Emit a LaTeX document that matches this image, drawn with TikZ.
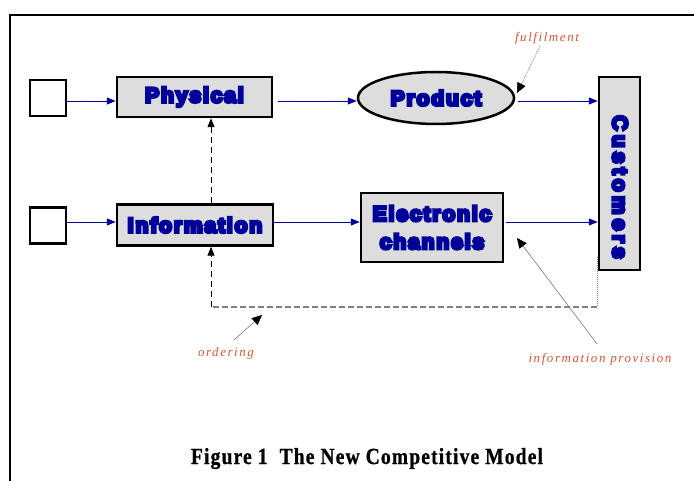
\documentclass[tikz,border=0pt]{standalone}
\usepackage{fontspec}
\usetikzlibrary{arrows.meta,shapes.geometric,calc}
\newfontfamily\heavyfont[FakeBold=14,LetterSpace=9]{Liberation Sans Bold}
\newfontfamily\heavywidefont[FakeBold=14,LetterSpace=20]{Liberation Sans Bold}
\newfontfamily\labelfont[LetterSpace=12]{Liberation Serif Italic}
\newfontfamily\capfont[LetterSpace=6,FakeBold=1]{Liberation Serif Bold}
\definecolor{boxblue}{RGB}{0,0,155}
\definecolor{arrowblue}{RGB}{0,0,160}
\definecolor{boxgray}{RGB}{221,221,221}
\definecolor{labelred}{RGB}{222,82,50}
\begin{document}
\begin{tikzpicture}[x=1pt,y=-1pt,
  mainbox/.style={draw=black,line width=2.5pt,fill=boxgray,inner sep=0pt,
    text=boxblue,font=\heavyfont\fontsize{21}{28}\selectfont},
  inbox/.style={draw=black,line width=2.2pt,fill=white,minimum width=36pt,minimum height=36pt,inner sep=0pt},
  flow/.style={draw=arrowblue,line width=0.9pt,-{Triangle[length=9pt,width=7pt]}},
  feedback/.style={draw=black,line width=0.8pt,dash pattern=on 6pt off 4pt},
  feedbackgray/.style={draw=gray,line width=1.1pt,dash pattern=on 6pt off 3pt},
  note/.style={text=labelred,font=\labelfont\fontsize{13}{15}\selectfont,inner sep=0pt},
  pointer/.style={draw=gray!80!black,line width=0.5pt,-{Triangle[length=10pt,width=9pt,color=black]}},
  tipblack/.style={-{Triangle[length=9pt,width=7pt]}}
]
\useasboundingbox (0,0) rectangle (694,481);
% frame
\draw[line width=2pt] (9.5,481) -- (9.5,15) -- (694,15);

% nodes
\node[inbox] (in1) at (48,98) {};
\node[inbox] (in2) at (48,225.5) {};
\node[mainbox,minimum width=155pt,minimum height=40pt] (phys) at (194.5,97) {\raisebox{-1pt}{Physical}};
\node[mainbox,ellipse,minimum width=156pt,minimum height=52pt] (prod) at (436,98) {Product};
\node[mainbox,minimum width=41pt,minimum height=193pt] (cust) at (619.5,173.5) {};
\node[text=boxblue,font=\heavywidefont\fontsize{21}{28}\selectfont,rotate=-90,inner sep=0pt] (custtext) at (620,187) {Customers};
\node[mainbox,minimum width=156pt,minimum height=41pt] (info) at (195,225) {Information};
\node[mainbox,minimum width=142pt,minimum height=69pt,align=center] (elec) at (432,227.5)
  {Electronic\\channels};

% flows
\draw[flow] (in1.east |- 0,101) -- (phys.west |- 0,101);
\draw[flow] (phys.east |- 0,101) ++(5,0) -- (prod.west |- 0,101);
\draw[flow] (prod.east |- 0,101) ++(3,0) -- (cust.west |- 0,101);
\draw[flow] (in2.east |- 0,222) -- (info.west |- 0,222);
\draw[flow] (info.east |- 0,222) -- (elec.west |- 0,222);
\draw[flow] (elec.east |- 0,222) ++(2,0) -- (cust.west |- 0,222);

% feedback (ordering loop)
\coordinate (xcol) at (211,0);
\coordinate (loopR) at (597,307);
\draw[draw=gray,line width=0.6pt,dash pattern=on 1pt off 1pt] (597,257) -- (loopR);
\draw[feedbackgray] (loopR) -- (loopR -| xcol);
\draw[feedback,tipblack] (loopR -| xcol) -- (info.south -| xcol);
\draw[feedback,tipblack] (info.north -| xcol) -- (phys.south -| xcol);

% notes
\node[note] (fulf) at (547,38) {fulfilment};
\coordinate (fulftip) at (517,93);
\draw[pointer,dash pattern=on 1pt off 0.8pt] ($(fulf.south)+(-7,2)$) -- (fulftip);

\node[note] (ord) at (226,353) {ordering};
\coordinate (ordtip) at (262,315);
\draw[pointer] ($(ord.north)+(8,-7)$) -- (ordtip);

\node[note] (prov) at (600,359) {information provision};
\coordinate (provtip) at (517,238);
\draw[pointer] ($(prov.north)+(-3,-9)$) -- (provtip);

% caption
\node[inner sep=0pt,anchor=base] (cap) at (367,464)
  {\resizebox{352pt}{16pt}{\capfont\fontsize{18}{20}\selectfont Figure 1\ \ The New Competitive Model}};
\end{tikzpicture}
\end{document}
